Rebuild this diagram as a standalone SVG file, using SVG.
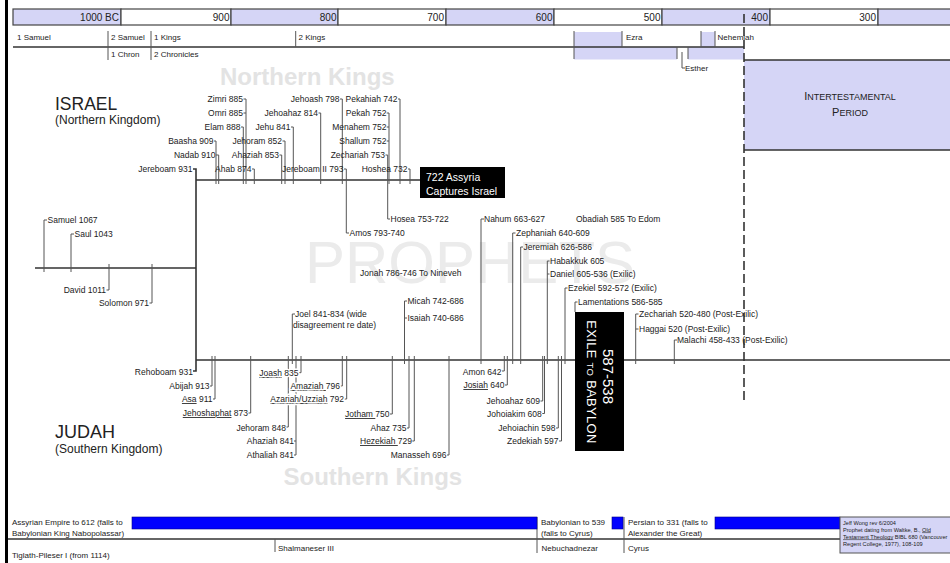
<svg xmlns="http://www.w3.org/2000/svg" width="950" height="563" viewBox="0 0 950 563">
<style>
text{font-family:"Liberation Sans",Arial,sans-serif;fill:#222}
.k{font-size:8.5px}
.b{font-size:8px}
.y{font-size:10px;text-anchor:end}
.e{text-anchor:end}
.u{text-decoration:underline}
.h{paint-order:stroke;stroke:#fff;stroke-width:3px;stroke-linejoin:round}
.t{stroke:#555;stroke-width:1;fill:none}
.m{stroke:#333;stroke-width:1.6;fill:none}
.lav{fill:#d5d5f6}
.seg{stroke:#444;stroke-width:1.2}
.blue{fill:#0000ff;stroke:#00008a;stroke-width:0.6}
.ghost{font-weight:bold;font-size:24px;fill:#e3e3e3}
</style>
<rect width="950" height="563" fill="#fff"/>
<rect x="5" y="0" width="3" height="563" fill="#000"/>

<g id="timescale">
<rect class="lav seg" x="13" y="9" width="108" height="16"/>
<rect class="seg" fill="#fff" x="121" y="9" width="110" height="16"/>
<rect class="lav seg" x="231" y="9" width="107" height="16"/>
<rect class="seg" fill="#fff" x="338" y="9" width="108" height="16"/>
<rect class="lav seg" x="446" y="9" width="108" height="16"/>
<rect class="seg" fill="#fff" x="554" y="9" width="108" height="16"/>
<rect class="lav seg" x="662" y="9" width="108" height="16"/>
<rect class="seg" fill="#fff" x="770" y="9" width="108" height="16"/>
<rect class="lav seg" x="878" y="9" width="74" height="16"/>
<text class="y" x="119" y="21">1000 BC</text>
<text class="y" x="229.5" y="21">900</text>
<text class="y" x="336.5" y="21">800</text>
<text class="y" x="444" y="21">700</text>
<text class="y" x="552.5" y="21">600</text>
<text class="y" x="660.5" y="21">500</text>
<text class="y" x="768" y="21">400</text>
<text class="y" x="876" y="21">300</text>
</g>

<g id="books">
<rect class="lav" x="574" y="32" width="48" height="15"/>
<rect class="lav" x="701" y="32" width="14" height="15"/>
<rect class="lav" x="574" y="47" width="103" height="12.5"/>
<rect class="lav" x="688" y="47" width="56" height="12.5"/>
<path class="m" d="M13 47H744" stroke-width="1.3"/>
<path class="t" stroke="#333" stroke-width="1.2" d="M108 31V60M151 31V60M295.7 31V47M574 31V59M622 31V47M701 31V47M715 31V47M677 47V59M688 47V59M682 52V68H685"/>
<text class="b" x="17" y="39.5">1 Samuel</text>
<text class="b" x="111" y="39.5">2 Samuel</text>
<text class="b" x="154" y="39.5">1 Kings</text>
<text class="b" x="111" y="56.5">1 Chron</text>
<text class="b" x="154" y="56.5">2 Chronicles</text>
<text class="b" x="298.5" y="39.5">2 Kings</text>
<text class="b" x="626" y="39.5">Ezra</text>
<text class="b" x="717.5" y="39.5">Nehemiah</text>
<text class="b" x="685" y="70.5">Esther</text>
</g>

<g id="intertestamental">
<rect class="lav" x="744" y="60" width="207" height="90"/>
<path class="m" d="M744 60H951M744 150H951" stroke-width="1.3"/>
<text x="850" y="100" text-anchor="middle" font-size="11">I<tspan font-size="9">NTERTESTAMENTAL</tspan></text>
<text x="850" y="116" text-anchor="middle" font-size="11">P<tspan font-size="9">ERIOD</tspan></text>
</g>

<g id="titles">
<text class="ghost" x="220" y="85">Northern Kings</text>
<text class="ghost" x="283.5" y="485">Southern Kings</text>
<text x="305" y="283" font-size="60" fill="#ebebeb" style="fill:#ebebeb">PROPHETS</text>
<text x="55" y="110" font-size="17.5">ISRAEL</text>
<text x="55" y="124" font-size="12">(Northern Kingdom)</text>
<text x="55" y="438" font-size="18">JUDAH</text>
<text x="55" y="453" font-size="12">(Southern Kingdom)</text>
</g>

<g id="connectors">
<path class="m" d="M35 268H196M196 180H420M196 360H950M193 169H196V371H193"/>
<path class="m" d="M744 14V402" stroke-dasharray="9 4" stroke-width="1.5"/>
<path class="t" d="M47 220H44V272M74 234H71V272M109 264V290H106.5M152 264V303H149.5"/>
<path class="t" d="M243.5 99H246V184M243.5 113H246M241 127H243.3V184M214 141H216V184M216 155H218.7V184M252 169H254.3V184M282.5 141H285V184M279.5 155H281.7V184M291 127H293.3V184M318.5 113H320.7V184M340 99H342.3V184M344 169H346.3V233H349M398 99H400V184M386.7 113H389V184M386.7 127H389M386.7 141H389M385.5 155H387.7V219H390M408 169H410V184"/>
<path class="t" d="M212 356V386H210M215 356V399H213M250.7 356V413H248.5M288.3 356V427H286.5M296 356V455H294M296 441H294M301 356V372.7H299M342.3 356V386H340.5M346.7 356V399H344.5M392.3 356V414H390M409 356V428H407M414.3 356V441H412.3M449 356V455H447M504.3 356V371H502M507.3 356V385H505M542.7 356V401H540.5M544.5 356V413.5H542.3M558.3 356V428H556M561.5 356V441H559"/>
<path class="t" d="M295 314H292.3V364M484 219H481V364M515.5 233H512.7V364M523 247H520.7V364M549.5 261H547.3V364M547.3 274H549.5M567.5 288H565V364M577.5 302H575V312M638.5 314H635.7V364M635.7 329H638.5M677 340H674.3V364"/>
<path class="t" d="M407 301H404.5V364M404.5 318H407" stroke-width="2.2"/>
<path class="m" d="M8 539H840" stroke-width="1.3"/>
<path class="t" stroke="#333" stroke-width="1.3" d="M275 539V552M537 517V553M624 517V553"/>
</g>

<g id="united">
<text class="k" x="47.5" y="223">Samuel 1067</text>
<text class="k" x="74.5" y="237">Saul 1043</text>
<text class="k e" x="106" y="293">David 1011</text>
<text class="k e" x="149" y="306">Solomon 971</text>
</g>

<g id="israel-kings">
<text class="k e" x="243" y="102">Zimri 885</text>
<text class="k e" x="243" y="116">Omri 885</text>
<text class="k e" x="240.5" y="130">Elam 888</text>
<text class="k e" x="213.5" y="144">Baasha 909</text>
<text class="k e" x="215.5" y="158">Nadab 910</text>
<text class="k e" x="192.5" y="172">Jereboam 931</text>
<text class="k e" x="251.5" y="172">Ahab 874</text>
<text class="k e" x="282" y="144">Jehoram 852</text>
<text class="k e" x="279" y="158">Ahaziah 853</text>
<text class="k e" x="290.5" y="130">Jehu 841</text>
<text class="k e" x="318" y="116">Jehoahaz 814</text>
<text class="k e" x="339.5" y="102">Jehoash 798</text>
<text class="k e" x="343.5" y="172">Jereboam II 793</text>
<text class="k e" x="397.5" y="102">Pekahiah 742</text>
<text class="k e" x="386.5" y="116">Pekah 752</text>
<text class="k e" x="386.5" y="130">Menahem 752</text>
<text class="k e" x="386.5" y="144">Shallum 752</text>
<text class="k e" x="385" y="158">Zechariah 753</text>
<text class="k e" x="407.5" y="172">Hoshea 732</text>
</g>

<g id="assyria-captures">
<rect x="420" y="167" width="85" height="31" fill="#000"/>
<text x="426" y="181" font-size="10.5" style="fill:#fff">722 Assyria</text>
<text x="426" y="194.5" font-size="10.5" style="fill:#fff">Captures Israel</text>
</g>

<g id="prophets">
<text class="k" x="349.5" y="236">Amos 793-740</text>
<text class="k" x="390.5" y="222">Hosea 753-722</text>
<text class="k" x="360" y="276">Jonah 786-746 To Nineveh</text>
<text class="k" x="407.5" y="304">Micah 742-686</text>
<text class="k" x="407.5" y="321">Isaiah 740-686</text>
<text class="k" x="295" y="317">Joel 841-834 (wide</text>
<text class="k" x="293" y="327.5">disagreement re date)</text>
<text class="k" x="484" y="222">Nahum 663-627</text>
<text class="k" x="576" y="222">Obadiah 585 To Edom</text>
<text class="k" x="516" y="236">Zephaniah 640-609</text>
<text class="k" x="523.5" y="250">Jeremiah 626-586</text>
<text class="k" x="550" y="264">Habakkuk 605</text>
<text class="k" x="550" y="277">Daniel 605-536 (Exilic)</text>
<text class="k" x="568" y="291">Ezekiel 592-572 (Exilic)</text>
<text class="k" x="578" y="305">Lamentations 586-585</text>
<text class="k" x="639" y="317">Zechariah 520-480 (Post-Exilic)</text>
<text class="k" x="639" y="332">Haggai 520 (Post-Exilic)</text>
<text class="k" x="677" y="343">Malachi 458-433 (Post-Exilic)</text>
</g>

<g id="judah-kings">
<text class="k e" x="193" y="374.5">Rehoboam 931</text>
<text class="k e" x="209.5" y="389">Abijah 913</text>
<text class="k e" x="212.5" y="402"><tspan class="u">Asa</tspan> 911</text>
<text class="k e" x="248" y="416"><tspan class="u">Jehoshaphat</tspan> 873</text>
<text class="k e h" x="298.5" y="376"><tspan class="u">Joash</tspan> 835</text>
<text class="k e h" x="340" y="389"><tspan class="u">Amaziah </tspan>796</text>
<text class="k e h" x="344" y="402"><tspan class="u">Azariah/Uzziah</tspan> 792</text>
<text class="k e" x="286" y="430.5">Jehoram 848</text>
<text class="k e" x="294" y="444">Ahaziah 841</text>
<text class="k e" x="294" y="458">Athaliah 841</text>
<text class="k e" x="389.5" y="417"><tspan class="u">Jotham </tspan>750</text>
<text class="k e" x="406.5" y="431">Ahaz 735</text>
<text class="k e" x="412" y="444"><tspan class="u">Hezekiah </tspan>729</text>
<text class="k e" x="446.5" y="458">Manasseh 696</text>
<text class="k e" x="501.5" y="374.5">Amon 642</text>
<text class="k e" x="504.5" y="388"><tspan class="u">Josiah</tspan> 640</text>
<text class="k e" x="540" y="404">Jehoahaz 609</text>
<text class="k e" x="541.8" y="416.5">Johoiakim 608</text>
<text class="k e" x="555.5" y="431">Jehoiachin 598</text>
<text class="k e" x="558.5" y="444">Zedekiah 597</text>
</g>

<g id="exile">
<rect x="575" y="312" width="49" height="139" fill="#000"/>
<g transform="translate(600,382) rotate(90)">
<text x="0" y="13" text-anchor="middle" font-size="13" letter-spacing="0.3" style="fill:#fff">EXILE <tspan font-size="9.5">TO</tspan> BABYLON</text>
<text x="-5.5" y="-3" text-anchor="middle" font-size="15" style="fill:#fff">587-538</text>
</g>
</g>

<g id="empires">
<rect class="blue" x="132" y="517" width="405" height="12"/>
<rect class="blue" x="612" y="517" width="11" height="12"/>
<rect class="blue" x="715" y="517" width="125" height="12"/>
<text class="b" x="12" y="524.5" font-size="8.2">Assyrian Empire to 612 (falls to</text>
<text class="b" x="12" y="536" font-size="8.2">Babylonian King Nabopolassar)</text>
<text class="b" x="12" y="558" font-size="8.2">Tiglath-Pileser I (from 1114)</text>
<text class="b" x="278" y="550.5" font-size="8.2">Shalmaneser III</text>
<text class="b" x="541" y="524.5" font-size="8.2">Babylonian to 539</text>
<text class="b" x="541" y="536" font-size="8.2">(falls to Cyrus)</text>
<text class="b" x="541.5" y="550.5" font-size="8.2">Nebuchadnezar</text>
<text class="b" x="628" y="524.5" font-size="8.2">Persian to 331 (falls to</text>
<text class="b" x="628" y="536" font-size="8.2">Alexander the Great)</text>
<text class="b" x="628" y="550.5" font-size="8.2">Cyrus</text>
</g>

<g id="credits">
<rect class="lav" x="840" y="517" width="111" height="36" stroke="#555" stroke-width="1"/>
<text x="843" y="524.5" font-size="5.6">Jeff Wong rev 6/2004</text>
<text x="843" y="531.5" font-size="5.6">Prophet dating from Waltke, B., <tspan class="u">Old</tspan></text>
<text x="843" y="538.5" font-size="5.6"><tspan class="u">Testament Theology</tspan> BIBL 680 (Vancouver</text>
<text x="843" y="545.5" font-size="5.6">Regent College, 1977), 108-109</text>
</g>
</svg>
